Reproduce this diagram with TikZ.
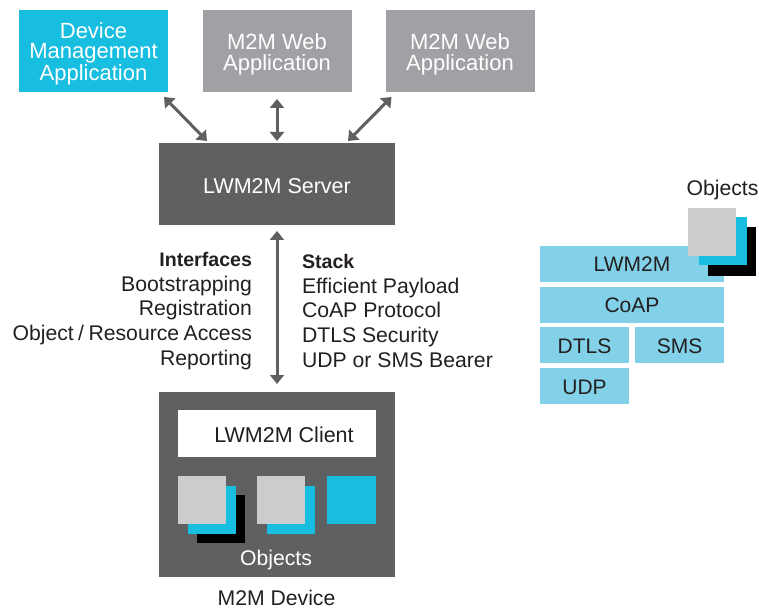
\documentclass[tikz,border=0pt]{standalone}
\usepackage{fontspec}
\setmainfont{Liberation Sans}
\usetikzlibrary{arrows.meta}
\definecolor{appcyan}{HTML}{17BEE0}
\definecolor{appgray}{HTML}{A0A1A4}
\definecolor{srvgray}{HTML}{5F6062}
\definecolor{stackblue}{HTML}{82D1E8}
\definecolor{objgray}{HTML}{CBCCCE}
\definecolor{inktext}{HTML}{231F20}
\tikzset{
	x=1pt, y=-1pt,
	box/.style={inner sep=0pt, outer sep=0pt, align=center},
	appbox/.style={box, minimum width=149pt, minimum height=82pt, text=white, text depth=0pt, font=\fontsize{22}{20.5}\selectfont},
	srvbox/.style={box, fill=srvgray, minimum width=236pt, text=white, text height=19pt, text depth=0pt, font=\fontsize{21.5}{24}\selectfont},
	layerbox/.style={box, fill=stackblue, text=inktext, minimum height=36pt, text height=16pt, text depth=0pt, font=\fontsize{21}{24}\selectfont},
	objbox/.style={box, minimum width=48pt, minimum height=48pt},
	textlabel/.style={inner sep=0pt, outer sep=0pt, text=inktext, font=\fontsize{21.2}{24.8}\selectfont},
	biarrow/.style={{Triangle[width=14pt,length=9pt]}-{Triangle[width=14pt,length=9pt]}, line width=3pt, draw=srvgray},
}

\begin{document}
\begin{tikzpicture}
	%%%%% START %%%%%
	\useasboundingbox (0, 0) rectangle (759, 609);

	\node[appbox, fill=appcyan, text height=59pt] (device) at (93.5, 51) {Device\\Management\\Application};
	\node[appbox, fill=appgray, text height=39pt] (webone) at (277, 51) {M2M Web\\Application};
	\node[appbox, fill=appgray, text height=39pt] (webtwo) at (460, 51) {M2M Web\\Application};

	\node[srvbox, minimum height=82pt] (server) at (277, 184) {LWM2M Server};
	\node[srvbox, minimum height=185pt] (client) at (277, 484.5) {};
	\node[box, fill=white, text=inktext, minimum width=198pt, minimum height=47pt, text height=18pt, text depth=0pt, font=\fontsize{21.5}{24}\selectfont] (clienttext) at (277, 433.5) {\hspace*{14pt}LWM2M Client};

	\draw[biarrow] ([shift={(-4, 5)}]device.south east) -- ([shift={(48, -2)}]server.north west);
	\draw[biarrow] ([shift={(0, 7)}]webone.south) -- ([shift={(0, -2)}]server.north);
	\draw[biarrow] ([shift={(6, 5)}]webtwo.south west) -- ([shift={(-47, -2)}]server.north east);
	\draw[biarrow] ([shift={(0, 6)}]server.south) -- ([shift={(0, -8)}]client.north);

	\node[textlabel, anchor=east, align=right] (interfaces) at (252, 311) {{\fontsize{19.6}{24.8}\selectfont\bfseries Interfaces}\\Bootstrapping\\Registration\\{\spaceskip=4.4pt Object / Resource Access}\\Reporting};
	\node[textlabel, anchor=west, align=left] (stack) at (302, 311) {{\fontsize{19.6}{24.8}\selectfont\bfseries Stack}\\Efficient Payload\\CoAP Protocol\\DTLS Security\\UDP or SMS Bearer};

	\node[objbox, fill=black] (blackone) at (221, 519) {};
	\node[objbox, fill=appcyan] (cyanone) at (212, 510) {};
	\node[objbox, fill=objgray] (grayone) at (202, 500) {};
	\node[objbox, fill=appcyan] (cyantwo) at (291, 510) {};
	\node[objbox, fill=objgray] (graytwo) at (281, 500) {};
	\node[objbox, fill=appcyan, minimum width=49pt] (cyanthree) at (351.5, 500) {};

	\node[textlabel, text=white] (objectslabel) at (276, 560) {Objects};
	\node[textlabel] (devicelabel) at (276.5, 598) {M2M Device};

	\node[layerbox, minimum width=184pt] (lwm) at (632, 264) {LWM2M};
	\node[layerbox, minimum width=184pt] (coap) at (632, 304.5) {CoAP};
	\node[layerbox, minimum width=89pt] (dtls) at (584.5, 345) {DTLS};
	\node[layerbox, minimum width=89pt] (sms) at (679.5, 345) {SMS};
	\node[layerbox, minimum width=89pt] (udp) at (584.5, 386) {UDP};

	\node[objbox, fill=black] (blackstack) at (732, 251.5) {};
	\node[objbox, fill=appcyan] (cyanstack) at (722.5, 241.5) {};
	\node[objbox, fill=objgray] (graystack) at (712, 232) {};
	\node[textlabel] (stacklabel) at (722.5, 190) {Objects};

	%%%%% END %%%%%
\end{tikzpicture}
\end{document}
